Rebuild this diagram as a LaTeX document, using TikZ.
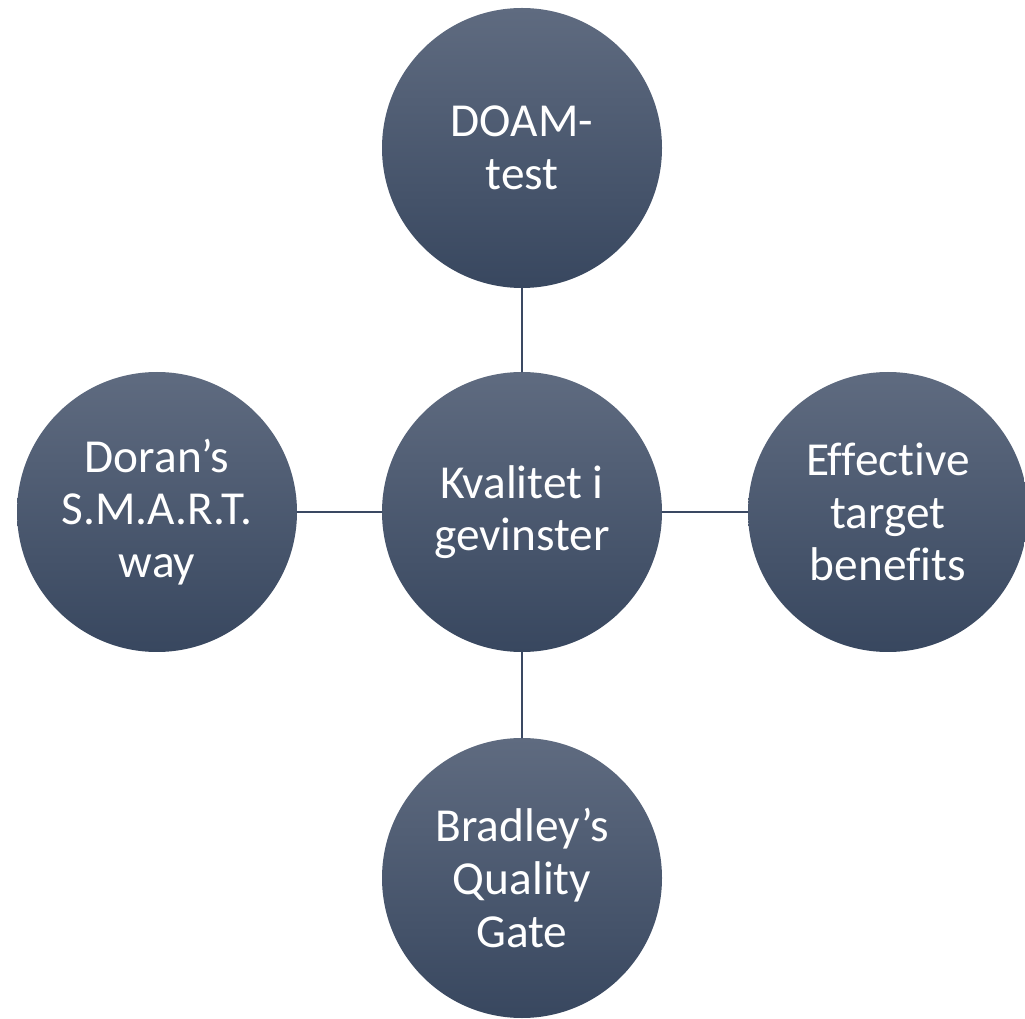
\documentclass[tikz,border=0pt]{standalone}
\usepackage{fontspec}
\setmainfont[Ligatures=CommonOff]{Carlito}

\definecolor{kuletopp}{HTML}{5F6B80}
\definecolor{kulebunn}{HTML}{38475F}
\definecolor{linjefarge}{HTML}{3A4862}

\begin{document}
\begin{tikzpicture}[x=0.75pt, y=-0.75pt, line join=round, line cap=round,
	kule/.style={circle, minimum size=210pt, inner sep=0pt, top color=kuletopp, bottom color=kulebunn,
		text=white, align=center, font=\fontsize{35.5}{39.5}\selectfont},
	linje/.style={line width=1.5pt, linjefarge}]
	% Ramme
	\useasboundingbox (0, 0) rectangle (1025, 1019);

	% Sirkler
	\node[kule] (midt) at (522, 512) {Kvalitet i\\gevinster};
	\node[kule] (topp) at (522, 148) {DOAM-\\test};
	\node[kule] (bunn) at (522, 878) {Bradley’s\\Quality\\Gate};
	\node[kule] (venstre) at (157, 512) {Doran’s\\S.M.A.R.T.\\way};
	\node[kule] (hoyre) at (888, 512) {Effective\\target\\benefits};

	% Forbindelser
	\foreach \k in {topp, bunn, venstre, hoyre} {
		\draw[linje] (midt) -- (\k);
	}
\end{tikzpicture}
\end{document}
